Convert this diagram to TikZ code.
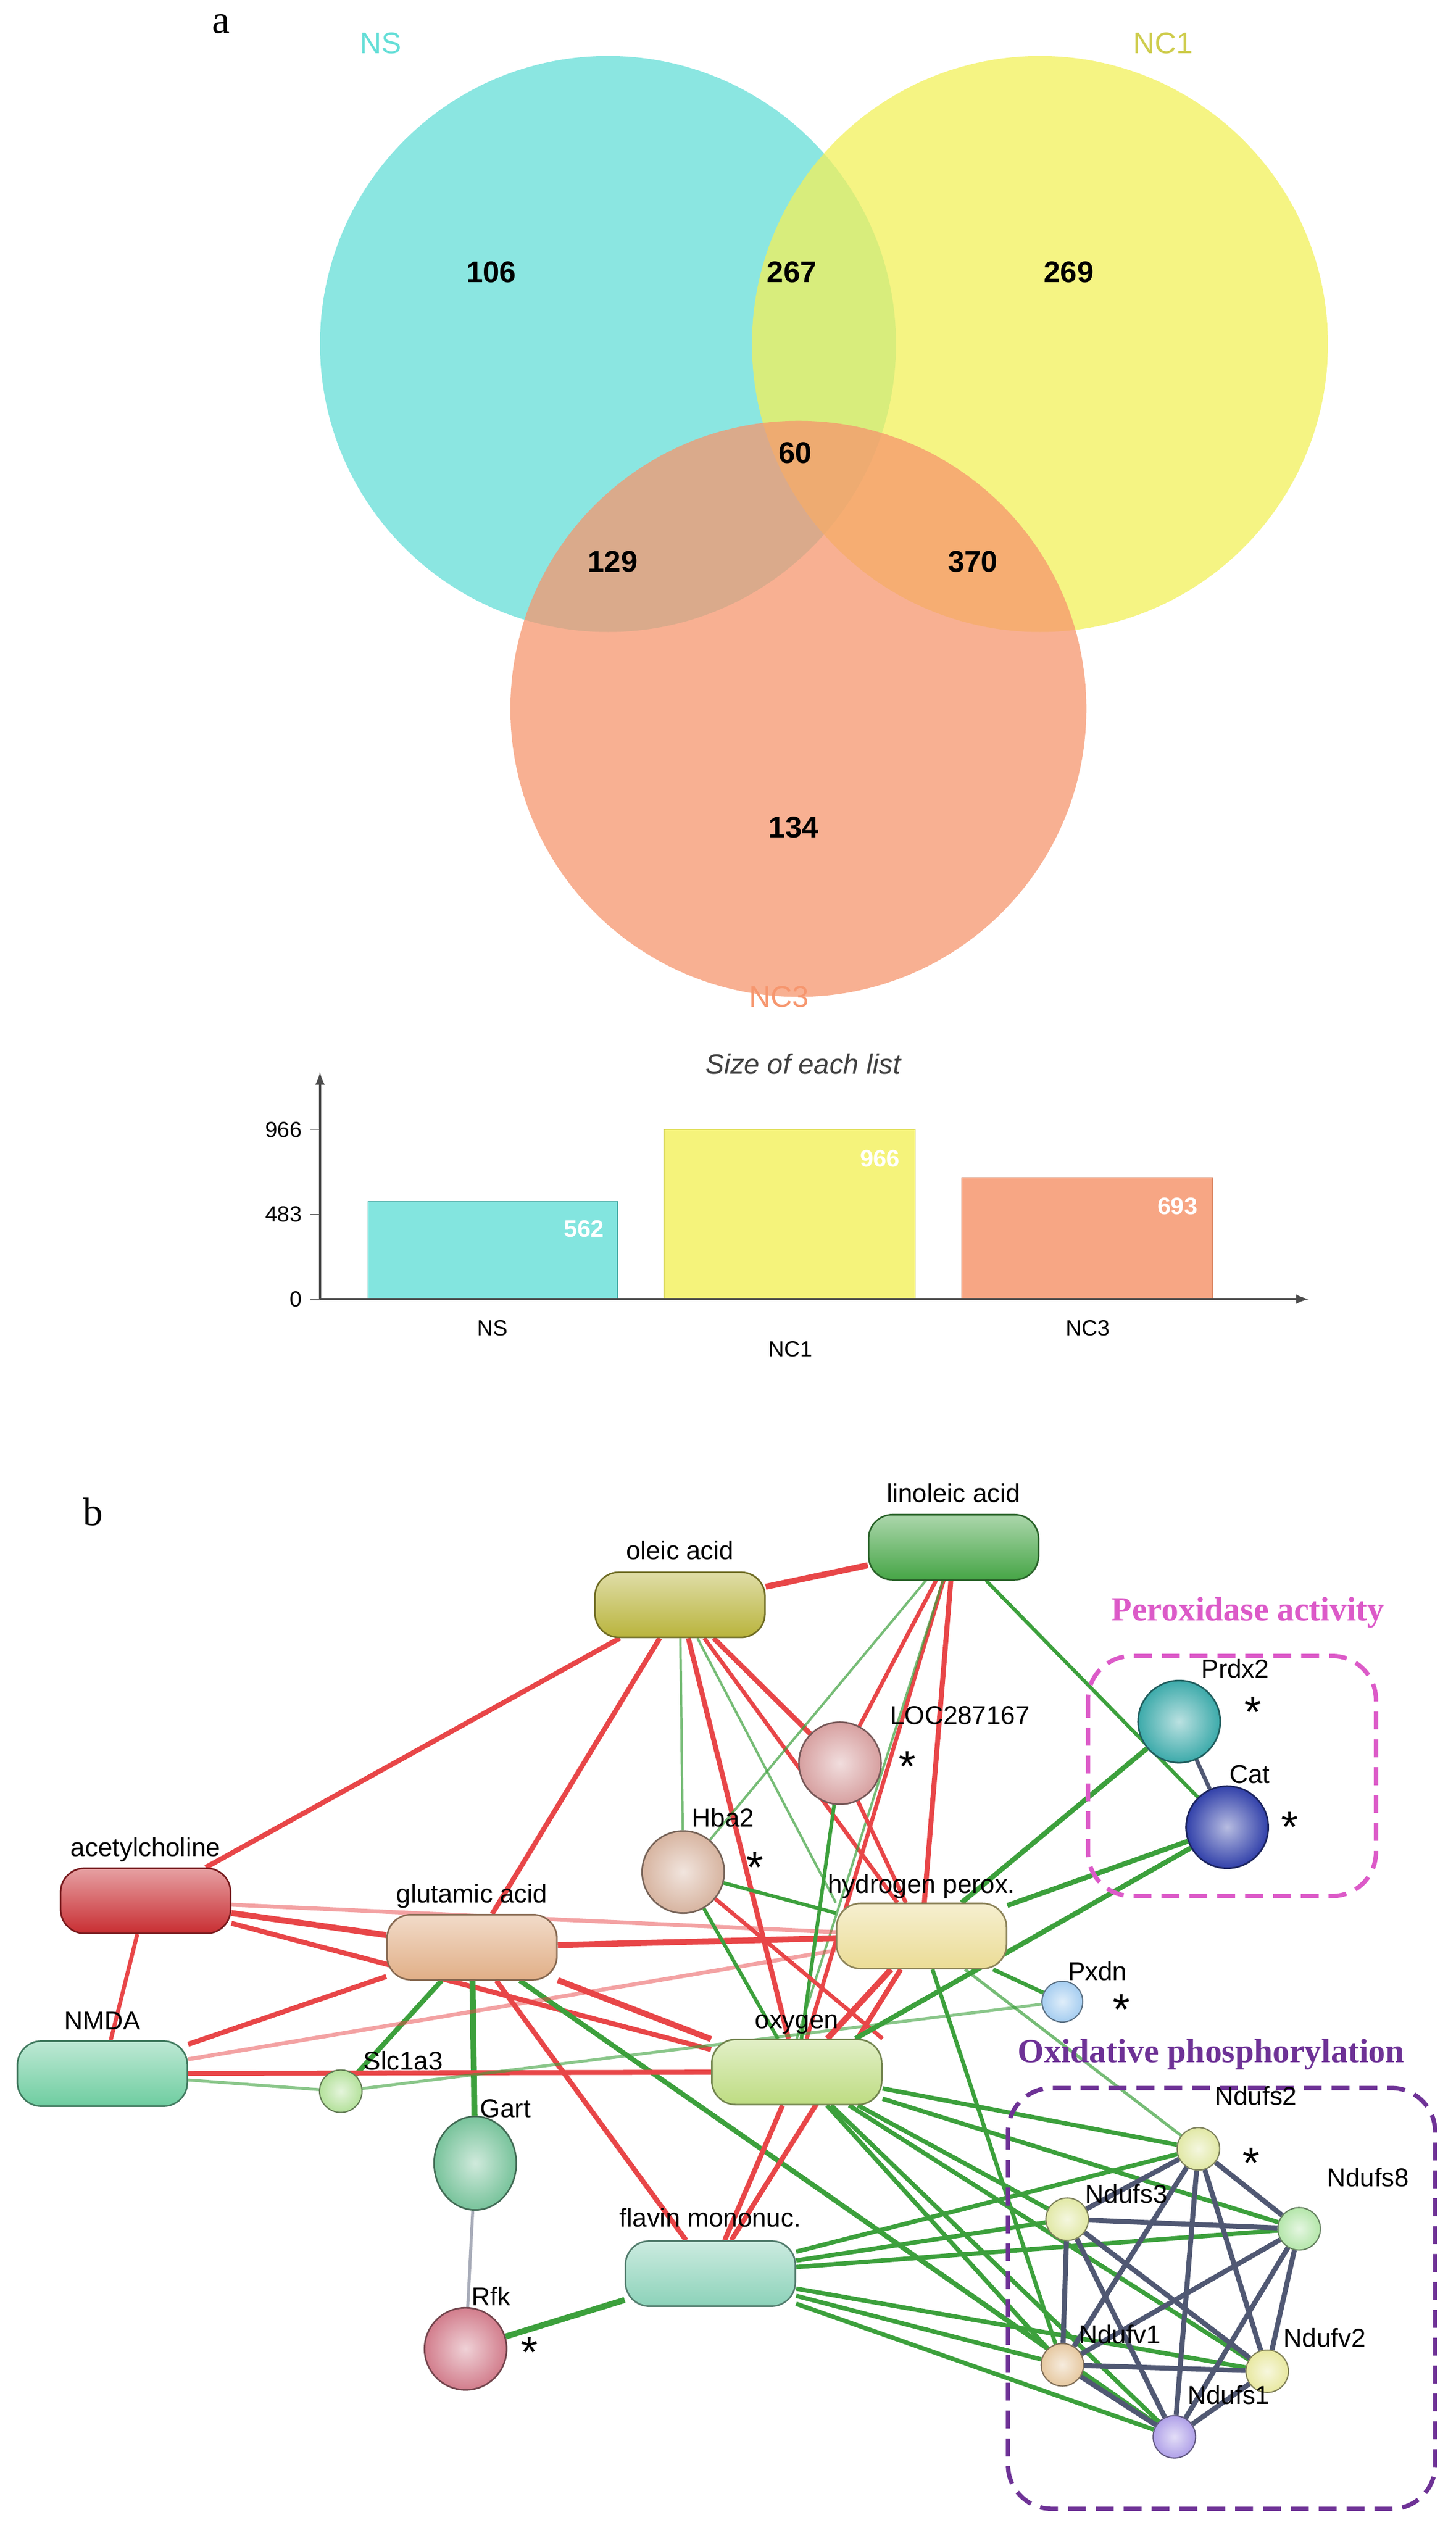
\documentclass[tikz,border=0pt]{standalone}
\usepackage{fontspec}
\setmainfont{Liberation Sans}
\newfontfamily\serifb{Liberation Serif}
\usetikzlibrary{backgrounds,shapes.geometric}
\definecolor{cNS}{RGB}{100,222,215}
\definecolor{cNC1}{RGB}{242,240,90}
\definecolor{cNC3}{RGB}{246,150,110}
\definecolor{er}{RGB}{232,70,72}
\definecolor{eg}{RGB}{60,160,60}
\definecolor{eb}{RGB}{80,88,115}
\definecolor{pmag}{RGB}{220,90,200}
\definecolor{ppur}{RGB}{110,50,150}
\definecolor{pOle}{RGB}{185,180,60}
\definecolor{pLin}{RGB}{70,165,70}
\definecolor{pAch}{RGB}{200,45,50}
\definecolor{pGlu}{RGB}{225,175,135}
\definecolor{pHyd}{RGB}{235,220,150}
\definecolor{pNmda}{RGB}{110,205,160}
\definecolor{pOxy}{RGB}{190,220,130}
\definecolor{pFla}{RGB}{140,210,185}
\definecolor{bLoc}{RGB}{215,160,160}
\definecolor{bHba}{RGB}{215,180,160}
\definecolor{bPrdx}{RGB}{60,170,170}
\definecolor{bCat}{RGB}{50,65,170}
\definecolor{bPx}{RGB}{165,205,240}
\definecolor{bSlc}{RGB}{180,225,155}
\definecolor{bGart}{RGB}{120,195,155}
\definecolor{bRfk}{RGB}{210,125,140}
\definecolor{bS2}{RGB}{225,232,165}
\definecolor{bS8}{RGB}{180,230,170}
\definecolor{bV1}{RGB}{230,200,160}
\definecolor{bV2}{RGB}{232,232,160}
\definecolor{bS1}{RGB}{175,160,232}
\tikzset{
 num/.style={font=\fontsize{15}{15}\selectfont\bfseries},
 lab/.style={font=\fontsize{13}{13}\selectfont},
 ast/.style={font=\fontsize{22}{22}\selectfont},
 pill/.style={rounded corners=12pt, minimum width=3cm, minimum height=1.15cm, draw=#1!60!black, top color=#1!45!white, bottom color=#1, line width=0.8pt},
 ball/.style={circle, inner color=#1!35!white, outer color=#1, draw=#1!55!black, line width=0.8pt, minimum size=1.45cm, inner sep=0pt},
 sball/.style={circle, inner color=#1!35!white, outer color=#1, draw=#1!55!black, line width=0.6pt, minimum size=0.75cm, inner sep=0pt},
 R/.style={er, line width=#1},
 G/.style={eg, line width=#1},
 B/.style={eb, line width=#1},
 box/.style={line width=2.2pt, rounded corners=22pt, dash pattern=on 9pt off 5pt},
}
\begin{document}
\begin{tikzpicture}[x=0.02824cm,y=-0.02824cm]
\useasboundingbox (0,0) rectangle (910,1580);
% ---------- panel a ----------
\node[font=\serifb\fontsize{20}{20}\selectfont] (la) at (138,15) {a};
\fill[cNS, fill opacity=0.75] (380,215) circle (180);
\fill[cNC1, fill opacity=0.75] (650,215) circle (180);
\fill[cNC3, fill opacity=0.75] (499,443) circle (180);
\node[text=cNS,font=\fontsize{15}{15}\selectfont] (lns) at (238,27) {NS};
\node[text=cNC1!85!black,font=\fontsize{15}{15}\selectfont] (lnc1) at (727,27) {NC1};
\node[text=cNC3,font=\fontsize{15}{15}\selectfont] (lnc3) at (487,623) {NC3};
\node[num] (n1) at (307,170) {106};
\node[num] (n2) at (495,170) {267};
\node[num] (n3) at (668,170) {269};
\node[num] (n4) at (497,283) {60};
\node[num] (n5) at (383,351) {129};
\node[num] (n6) at (608,351) {370};
\node[num] (n7) at (496,517) {134};
% bar chart
\node[font=\itshape\fontsize{14}{14}\selectfont, text=black!75] (tt) at (502,665) {Size of each list};
\coordinate (o) at (200,812);
\coordinate (yt) at (200,670);
\coordinate (xt) at (818,812);
\fill[cNS, fill opacity=0.8] (230,751) rectangle (386,812);
\draw[cNS!80!black] (230,812) |- (386,751) -- (386,812);
\fill[cNC1, fill opacity=0.8] (415,706) rectangle (572,812);
\draw[cNC1!85!black] (415,812) |- (572,706) -- (572,812);
\fill[cNC3, fill opacity=0.85] (601,736) rectangle (758,812);
\draw[cNC3!85!black] (601,812) |- (758,736) -- (758,812);
\draw[black!70, line width=1.2pt, -latex] (o) -- (yt);
\draw[black!70, line width=1.2pt, -latex] (o) -- (xt);
\foreach \yy/\t in {812/0,759/483,706/966}{
 \draw[black!70] (194,\yy) -- (200,\yy);
 \node[anchor=east, font=\fontsize{11}{11}\selectfont] at (193,\yy) {\t};}
\node[white,font=\bfseries\fontsize{12}{12}\selectfont] (v1) at (365,768) {562};
\node[white,font=\bfseries\fontsize{12}{12}\selectfont] (v2) at (550,724) {966};
\node[white,font=\bfseries\fontsize{12}{12}\selectfont] (v3) at (736,754) {693};
\node[font=\fontsize{11}{11}\selectfont] (c1) at (308,830) {NS};
\node[font=\fontsize{11}{11}\selectfont] (c2) at (494,843) {NC1};
\node[font=\fontsize{11}{11}\selectfont] (c3) at (680,830) {NC3};
% ---------- panel b ----------
\node[font=\serifb\fontsize{20}{20}\selectfont] (lb) at (58,945) {b};
\node[text=pmag,font=\serifb\bfseries\fontsize{17}{17}\selectfont] (lper) at (780,1008) {Peroxidase activity};
\node[text=ppur,font=\serifb\bfseries\fontsize{17}{17}\selectfont] (lox) at (757,1284) {Oxidative phosphorylation};
\draw[box, pmag] (680,1035) rectangle (860,1185);
\draw[box, ppur] (630,1305) rectangle (897,1568);
% pills
\node[pill=pOle] (ole) at (425,1003) {};
\node[pill=pLin] (lin) at (596,967) {};
\node[pill=pAch] (ach) at (91,1188) {};
\node[pill=pGlu] (glu) at (295,1217) {};
\node[pill=pHyd] (hyd) at (576,1210) {};
\node[pill=pNmda] (nmda) at (64,1296) {};
\node[pill=pOxy] (oxy) at (498,1295) {};
\node[pill=pFla] (fla) at (444,1421) {};
% balls
\node[ball=bLoc] (loc) at (525,1102) {};
\node[ball=bHba] (hba) at (427,1170) {};
\node[ball=bPrdx] (prdx) at (737,1076) {};
\node[ball=bCat] (cat) at (767,1142) {};
\node[sball=bPx, minimum size=0.72cm] (pxdn) at (664,1251) {};
\node[sball=bSlc] (slc) at (213,1307) {};
\node[ball=bGart, ellipse, minimum height=1.65cm, minimum width=1.45cm] (gart) at (297,1352) {};
\node[ball=bRfk] (rfk) at (291,1468) {};
\node[sball=bS2] (s2) at (749,1343) {};
\node[sball=bS2] (s3) at (667,1387) {};
\node[sball=bS8] (s8) at (812,1393) {};
\node[sball=bV1] (v1n) at (664,1478) {};
\node[sball=bV2] (v2n) at (792,1482) {};
\node[sball=bS1] (s1) at (734,1523) {};
% labels
\node[lab] at (596,933) {linoleic acid};
\node[lab] at (425,969) {oleic acid};
\node[lab] at (600,1072) {LOC287167};
\node[lab] at (452,1136) {Hba2};
\node[lab] at (772,1043) {Prdx2};
\node[lab] at (781,1109) {Cat};
\node[lab] at (91,1156) {acetylcholine};
\node[lab] at (295,1185) {glutamic acid};
\node[lab] at (576,1179) {hydrogen perox.};
\node[lab] at (686,1232) {Pxdn};
\node[lab] at (64,1263) {NMDA};
\node[lab] at (252,1288) {Slc1a3};
\node[lab] at (498,1265) {oxygen};
\node[lab] at (316,1318) {Gart};
\node[lab] at (444,1386) {flavin mononuc.};
\node[lab] at (307,1435) {Rfk};
\node[lab] at (785,1310) {Ndufs2};
\node[lab] at (704,1371) {Ndufs3};
\node[lab] at (855,1361) {Ndufs8};
\node[lab] at (700,1459) {Ndufv1};
\node[lab] at (828,1461) {Ndufv2};
\node[lab] at (768,1497) {Ndufs1};
\foreach \p in {(567,1104),(472,1167),(783,1070),(806,1142),(701,1256),(782,1352),(331,1470)}
 \node[ast] at \p {*};
% edges
\begin{scope}[on background layer]
\draw[R=3pt] (ole) -- (lin);
\draw[R=2.5pt] (ole) -- (ach);
\draw[R=2.5pt] (ole) -- (glu);
\draw[R=2.5pt] (ole) -- (loc);
\draw[R=2.5pt] (ole) -- (oxy);
\draw[R=2pt] (ole) -- (hyd);
\draw[G=1.2pt, opacity=.7] (ole) -- (hba);
\draw[G=1.2pt, opacity=.7] (ole) -- (hyd.north west);
\draw[R=2.5pt] (lin) -- (hyd);
\draw[R=2pt] (lin) -- (oxy);
\draw[R=2pt] (lin) -- (loc);
\draw[G=1.2pt, opacity=.7] (lin) -- (hba);
\draw[G=1.2pt, opacity=.7] (lin) -- (oxy.north);
\draw[G=1.8pt] (lin) -- (cat);
\draw[R=3pt] (ach) -- (glu);
\draw[R=2pt, opacity=.5] (ach) -- (hyd);
\draw[R=2.5pt] (ach) -- (oxy);
\draw[R=2pt] (ach) -- (nmda);
\draw[R=3pt] (glu) -- (hyd);
\draw[R=3pt] (glu) -- (oxy);
\draw[R=2.5pt] (glu) -- (fla);
\draw[R=2.5pt] (glu) -- (nmda);
\draw[G=2.5pt] (glu) -- (slc);
\draw[G=3pt] (glu) -- (gart);
\draw[G=2.5pt] (glu) -- (s1);
\draw[R=2pt, opacity=.5] (nmda) -- (hyd);
\draw[R=2.5pt] (nmda) -- (oxy);
\draw[G=1.5pt, opacity=.6] (nmda) -- (slc);
\draw[G=1.5pt, opacity=.6] (slc) -- (pxdn);
\draw[R=2pt] (loc) -- (hyd);
\draw[G=1.8pt] (loc) -- (oxy);
\draw[G=1.8pt] (hba) -- (hyd);
\draw[G=1.8pt] (hba) -- (oxy);
\draw[R=2pt] (hba) -- (oxy.north east);
\draw[R=3pt] (hyd) -- (oxy);
\draw[R=2.5pt] (hyd) -- (fla);
\draw[R=2.5pt] (oxy) -- (fla);
\draw[G=2.5pt] (hyd) -- (prdx);
\draw[G=2.5pt] (hyd) -- (cat);
\draw[G=2.5pt] (oxy) -- (cat);
\draw[G=2pt] (hyd) -- (pxdn);
\draw[G=1.5pt, opacity=.7] (hyd) -- (s2);
\draw[G=2pt] (hyd) -- (v1n);
\foreach \t in {s2,s3,s8,v1n,v2n,s1} \draw[G=2.2pt] (oxy) -- (\t);
\foreach \t in {s2,s3,s8,v1n,v2n,s1} \draw[G=2.2pt] (fla) -- (\t);
\draw[G=3pt] (fla) -- (rfk);
\draw[eb!50, line width=1.5pt] (gart) -- (rfk);
\draw[B=2pt] (prdx) -- (cat);
\foreach \a/\b in {s2/s3,s2/s8,s2/v1n,s2/v2n,s2/s1,s3/s8,s3/v1n,s3/v2n,s3/s1,s8/v1n,s8/v2n,s8/s1,v1n/v2n,v1n/s1,v2n/s1}
 \draw[B=2.5pt] (\a) -- (\b);
\end{scope}
\end{tikzpicture}
\end{document}
